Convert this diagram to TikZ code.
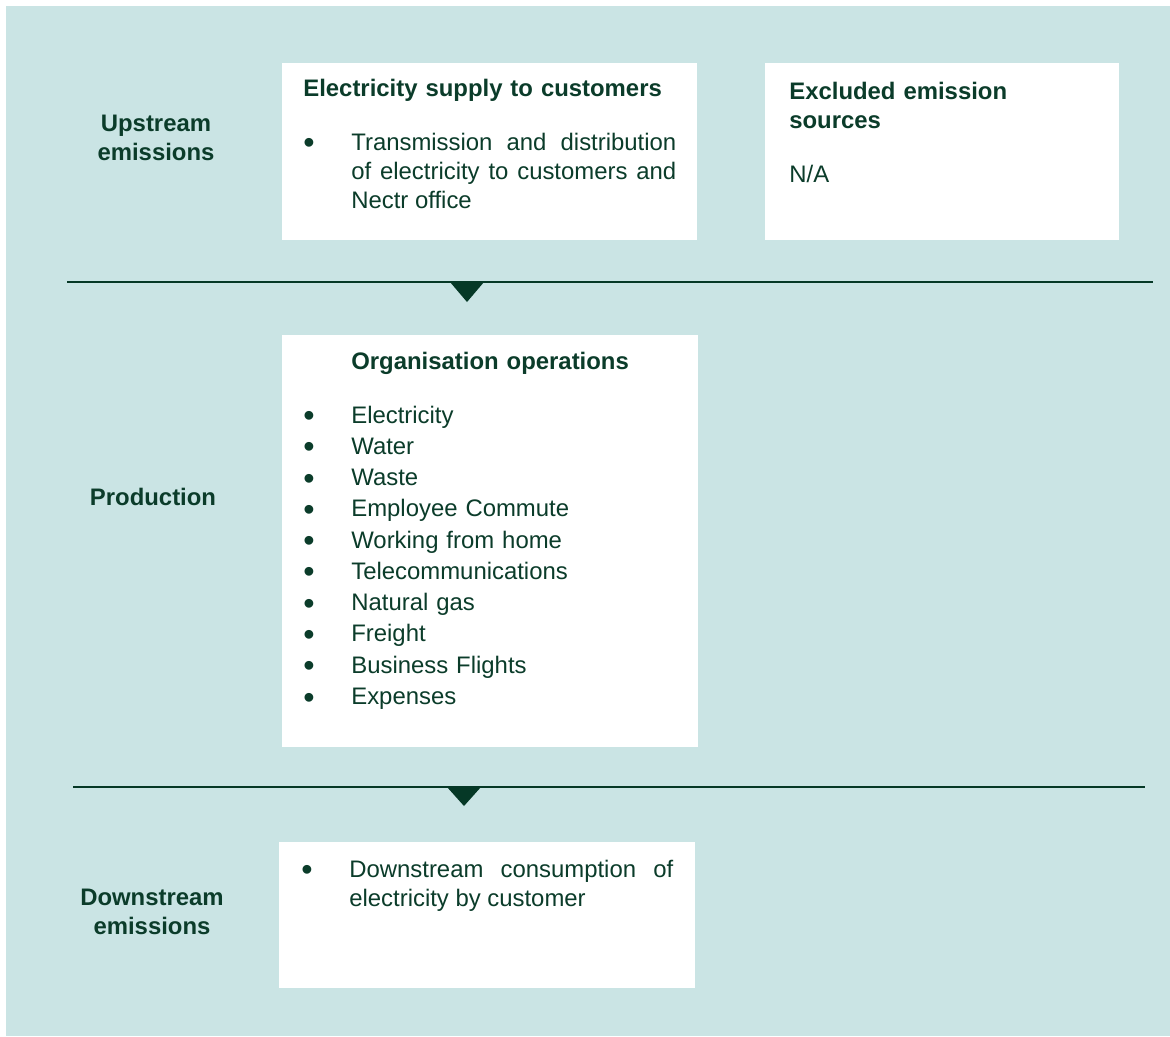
\documentclass[tikz,border=0pt]{standalone}
\usepackage{fontspec}
\setmainfont{Liberation Sans}

\definecolor{mist}{HTML}{CAE4E4}
\definecolor{leaf}{HTML}{0B3C2A}
\definecolor{pine}{HTML}{053826}

\newcommand{\px}{0.02cm}
\newcommand{\dotmark}{\makebox[0.96cm][l]{\raisebox{-0.15em}{\scalebox{1.35}{\textbullet}}}}
\newcommand{\dotitem}[1]{\dotmark#1}
\newcommand{\dotpara}[2]{\dotmark\parbox[t]{#1}{#2}}

\begin{document}
\begin{tikzpicture}[x=\px, y=-\px,
    panel/.style={rectangle, fill=white, anchor=north west, inner sep=0pt},
    stage/.style={font=\bfseries\fontsize{13.6}{17}\selectfont, text=leaf, align=center, text width=4cm, anchor=base, inner sep=0pt},
    heading/.style={font=\bfseries\fontsize{13.6}{17}\selectfont, text=leaf, text width=7.5cm, anchor=base west, inner sep=0pt},
    body/.style={font=\fontsize{13.6}{16.6}\selectfont, text=leaf, anchor=base west, inner sep=0pt},
    divider/.style={draw=pine, line width=0.85pt},
    marker/.style={fill=pine}]
    \useasboundingbox (0,0) rectangle (1170,1036);
    \fill[mist] (6,6) rectangle (1170,1036);

    % Upstream row
    \node[stage] (stage-up) at (156,131) {Upstream\\emissions};
    \node[panel, minimum width=415*\px, minimum height=177*\px] (box-up) at (282,63) {};
    \node[heading] (head-up) at (303,96) {Electricity supply to customers};
    \node[body] (text-up) at (303,150) {\dotpara{6.5cm}{Transmission and distribution of electricity to customers and Nectr office}};

    \node[panel, minimum width=354*\px, minimum height=177*\px] (box-ex) at (765,63) {};
    \node[heading, text width=6.5cm] (head-ex) at (789,99) {Excluded emission\\sources};
    \node[body] (text-ex) at (789,182) {N/A};

    % First divider
    \coordinate (rule-1-w) at (67,282);
    \coordinate (rule-1-e) at (1153,282);
    \draw[divider] (rule-1-w) -- (rule-1-e);
    \fill[marker] (450,282) -- (484,282) -- (467,302) -- cycle;

    % Production row
    \node[stage] (stage-prod) at (153,505) {Production};
    \node[panel, minimum width=416*\px, minimum height=412*\px] (box-prod) at (282,335) {};
    \node[heading] (head-prod) at (351,369) {Organisation operations};
    \node[body, font=\fontsize{13.6}{17.8}\selectfont, text width=8cm] (text-prod) at (303,423) {%
        \dotitem{Electricity}\\
        \dotitem{Water}\\
        \dotitem{Waste}\\
        \dotitem{Employee Commute}\\
        \dotitem{Working from home}\\
        \dotitem{Telecommunications}\\
        \dotitem{Natural gas}\\
        \dotitem{Freight}\\
        \dotitem{Business Flights}\\
        \dotitem{Expenses}};

    % Second divider
    \coordinate (rule-2-w) at (73,787);
    \coordinate (rule-2-e) at (1145,787);
    \draw[divider] (rule-2-w) -- (rule-2-e);
    \fill[marker] (447,787) -- (481,787) -- (464,806) -- cycle;

    % Downstream row
    \node[stage] (stage-down) at (152,905) {Downstream\\emissions};
    \node[panel, minimum width=416*\px, minimum height=146*\px] (box-down) at (279,842) {};
    \node[body] (text-down) at (301,877) {\dotpara{6.48cm}{Downstream consumption of electricity by customer}};

\end{tikzpicture}
\end{document}
